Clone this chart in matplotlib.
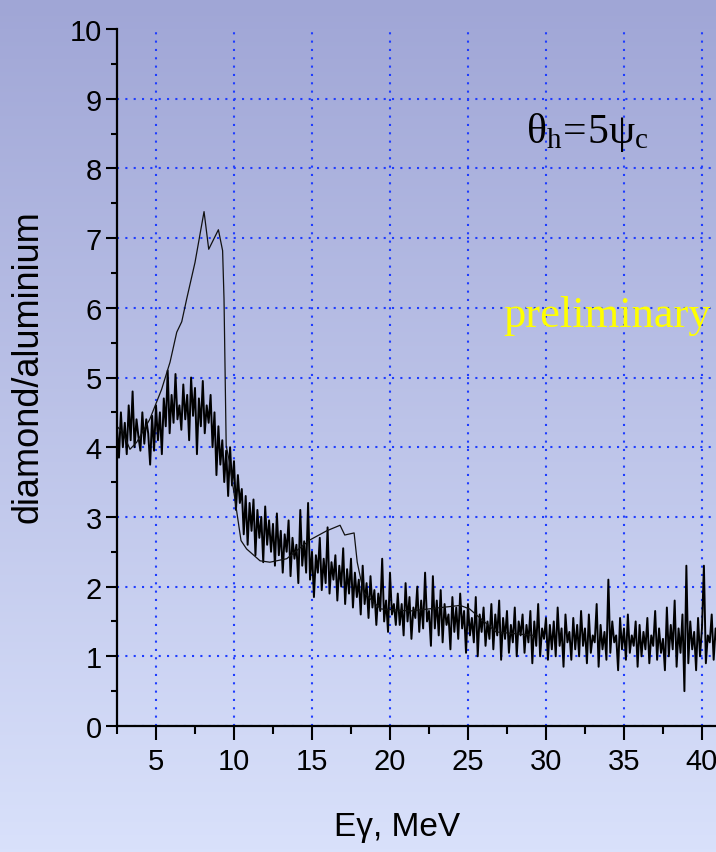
#!/usr/bin/env python3

"""
Ratio of diamond to aluminium photon spectra (theta_h = 5 psi_c), with the
noisy measured ratio and a thin calculated curve on top.
"""

import numpy as np
import matplotlib
matplotlib.use('Agg')
import matplotlib.pyplot as plt
from matplotlib.colors import LinearSegmentedColormap
from matplotlib.ticker import MultipleLocator

# Measured ratio, one value every 0.125 MeV starting at 2.5 MeV (16 values = 2 MeV per row)
E_START = 2.5
E_STEP = 0.125
ratio_rows = [
    [4.3, 3.85, 4.5, 4.0, 4.35, 3.9, 4.6, 4.1, 4.8, 4.0, 4.4, 4.15, 3.95, 4.5, 4.05, 4.4],      # 2.5
    [4.2, 3.75, 4.45, 3.95, 4.6, 4.1, 4.5, 3.9, 4.7, 4.3, 5.1, 4.2, 4.75, 4.35, 5.05, 4.4],     # 4.5
    [4.6, 4.25, 4.9, 4.4, 4.75, 4.1, 5.0, 4.45, 4.85, 3.9, 4.7, 4.3, 4.95, 4.2, 4.6, 4.35],     # 6.5
    [4.75, 4.0, 4.5, 3.6, 4.3, 3.75, 4.1, 3.5, 3.95, 3.3, 4.0, 3.45, 3.8, 3.1, 3.6, 3.2],       # 8.5
    [3.4, 2.75, 3.3, 2.6, 3.2, 2.8, 3.25, 2.45, 3.1, 2.7, 3.0, 2.35, 3.15, 2.6, 2.95, 2.5],     # 10.5
    [2.9, 2.3, 3.05, 2.45, 2.8, 2.2, 2.75, 2.5, 2.95, 2.15, 2.7, 2.4, 2.6, 2.05, 3.1, 2.3],     # 12.5
    [2.65, 2.2, 3.2, 2.1, 2.5, 1.85, 2.45, 2.2, 2.7, 1.95, 2.4, 2.05, 2.85, 1.9, 2.35, 2.1],    # 14.5
    [2.45, 1.8, 2.3, 2.0, 2.55, 1.75, 2.25, 1.9, 2.4, 1.7, 2.2, 1.85, 2.1, 1.6, 2.3, 1.75],     # 16.5
    [2.05, 1.55, 2.15, 1.7, 1.95, 1.45, 1.9, 1.65, 2.4, 1.5, 1.8, 1.35, 2.2, 1.6, 1.75, 1.45],  # 18.5
    [1.9, 1.45, 1.75, 1.3, 2.05, 1.5, 1.85, 1.25, 1.7, 1.55, 2.0, 1.35, 1.8, 1.4, 2.2, 1.5],    # 20.5
    [1.65, 1.15, 2.15, 1.4, 1.8, 1.3, 1.95, 1.2, 1.75, 1.45, 1.6, 1.1, 1.85, 1.35, 1.7, 1.25],  # 22.5
    [1.9, 1.4, 1.65, 1.05, 1.75, 1.3, 1.55, 1.2, 1.85, 1.0, 1.6, 1.35, 1.7, 1.15, 1.5, 1.25],   # 24.5
    [1.75, 1.1, 1.6, 1.3, 1.8, 0.95, 1.55, 1.25, 1.65, 1.05, 1.45, 1.2, 1.7, 1.0, 1.5, 1.3],    # 26.5
    [1.6, 1.05, 1.45, 1.2, 1.65, 0.9, 1.5, 1.15, 1.75, 1.0, 1.4, 1.25, 1.55, 0.95, 1.45, 1.1],  # 28.5
    [1.5, 1.0, 1.7, 1.15, 1.4, 0.85, 1.6, 1.2, 1.35, 0.95, 1.55, 1.1, 1.45, 1.0, 1.65, 1.15],   # 30.5
    [1.4, 0.9, 1.6, 1.05, 1.3, 1.2, 1.75, 0.85, 1.45, 1.1, 1.35, 0.95, 2.1, 1.05, 1.5, 1.2],    # 32.5
    [1.3, 0.8, 1.55, 1.1, 1.4, 0.95, 1.6, 1.05, 1.3, 1.15, 1.5, 0.85, 1.45, 1.0, 1.35, 1.1],    # 34.5
    [1.55, 0.9, 1.3, 1.15, 1.65, 0.95, 1.4, 1.05, 1.25, 0.8, 1.7, 1.0, 1.45, 1.1, 1.8, 0.85],   # 36.5
    [1.4, 1.05, 1.6, 0.5, 2.3, 0.9, 1.5, 1.1, 1.35, 0.8, 1.55, 1.0, 1.4, 2.3, 0.9, 1.3],        # 38.5
    [1.2, 1.6, 0.95, 1.4, 1.15],                                                                # 40.5
]

# Calculated curve
calc_energy = [2.5, 2.9, 3.33, 3.76, 4.6, 5.36, 5.9, 6.33, 6.65, 6.97, 7.5, 8.08, 8.38,
               9.0, 9.27, 9.36, 9.5, 9.7, 10.45, 10.81, 11.67, 12.3, 13.38, 14.87, 15.94,
               16.8, 17.1, 17.7, 17.9, 18.3, 19.4, 21.3, 24.5, 25.1, 26.8, 29.2]
calc_ratio = [4.3, 4.2, 3.97, 4.07, 4.4, 4.83, 5.22, 5.65, 5.8, 6.13, 6.65, 7.38, 6.84,
              7.12, 6.82, 6.13, 4.02, 3.8, 2.66, 2.54, 2.37, 2.35, 2.4, 2.67, 2.8,
              2.88, 2.74, 2.77, 2.35, 1.92, 1.68, 1.65, 1.73, 1.68, 1.35, 1.3]

x_ticks = [5, 10, 15, 20, 25, 30, 35, 40]
y_ticks = [0, 1, 2, 3, 4, 5, 6, 7, 8, 9, 10]

SANS = ['Liberation Sans', 'DejaVu Sans']
GRID_BLUE = '#1e3cff'


def draw_background(fig):
    """Vertical lavender gradient behind everything."""
    cmap = LinearSegmentedColormap.from_list('bg', ['#d9e1fb', '#a0a6d6'])
    bg = fig.add_axes([0, 0, 1, 1], zorder=-10)
    grad = np.linspace(0, 1, 256).reshape(-1, 1)
    bg.imshow(grad, aspect='auto', cmap=cmap, origin='lower', extent=[0, 1, 0, 1])
    bg.set_axis_off()


def main():
    plt.rcParams['font.family'] = SANS
    plt.rcParams['mathtext.fontset'] = 'custom'
    plt.rcParams['mathtext.rm'] = 'Liberation Serif'
    plt.rcParams['mathtext.it'] = 'Liberation Serif:italic'

    ratio = np.concatenate([np.array(r, dtype=float) for r in ratio_rows])
    energy = E_START + E_STEP * np.arange(len(ratio))

    fig = plt.figure(figsize=(7.16, 8.53), dpi=100)
    draw_background(fig)

    ax = fig.add_axes([117 / 716, 1 - 727 / 853, 599 / 716, 697 / 853])
    ax.patch.set_alpha(0)

    ax.plot(energy, ratio, color='black', lw=1.4, zorder=3)
    ax.plot(calc_energy, calc_ratio, color='#111111', lw=0.9, zorder=4)

    ax.set_xlim(2.5, 40.9)
    ax.set_ylim(0, 10)
    ax.set_xticks(x_ticks)
    ax.set_yticks(y_ticks)
    ax.xaxis.set_minor_locator(MultipleLocator(2.5))
    ax.yaxis.set_minor_locator(MultipleLocator(0.5))

    ax.grid(True, which='major', color=GRID_BLUE, lw=1.5, linestyle=(0, (1, 3)), zorder=1)
    ax.set_axisbelow(True)
    # no dotted line along the top edge
    ax.get_ygridlines()[-1].set_visible(False)

    for side in ['top', 'right']:
        ax.spines[side].set_visible(False)
    for side in ['left', 'bottom']:
        ax.spines[side].set_linewidth(1.6)
        ax.spines[side].set_zorder(5)

    ax.tick_params(axis='x', which='major', direction='out', length=10, width=1.5, pad=5,
                   labelsize=21)
    ax.tick_params(axis='x', which='minor', direction='out', length=6, width=1.5)
    ax.tick_params(axis='y', which='major', direction='out', length=8, width=1.5, pad=3,
                   labelsize=21)
    ax.tick_params(axis='y', which='minor', direction='out', length=4, width=1.5)

    # axis titles placed in figure pixels
    fig.text(28 / 716, 1 - 367 / 853, 'diamond/aluminium', rotation=90,
             ha='center', va='center', fontsize=26)
    fig.text(397 / 716, 1 - 828 / 853, 'E\u03b3, MeV', ha='center', va='center', fontsize=24)

    fig.text(587 / 716, 1 - 143 / 853, r'$\mathrm{\theta_h\!=\!5\psi_c}$',
             ha='center', va='baseline', fontsize=30, color='black')
    fig.text(607 / 716, 1 - 327 / 853, 'preliminary', ha='center', va='baseline',
             fontsize=32, color='#ffff00', family=['Liberation Serif', 'DejaVu Serif'])

    fig.savefig('out.png', dpi=100)
    plt.close(fig)


if __name__ == '__main__':
    main()
